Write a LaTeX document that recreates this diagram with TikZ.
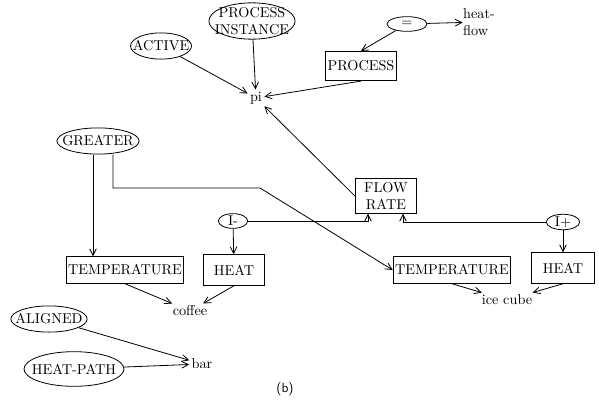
\documentclass[tikz,border=0pt]{standalone}
\usetikzlibrary{shapes.geometric,arrows.meta}

\begin{document}
\begin{tikzpicture}[x=0.75pt,y=-0.75pt,line width=0.6pt,
	font=\fontsize{10.7}{12.5}\selectfont,
	>={Straight Barb[length=5pt,width=5pt]},
	oval/.style={ellipse,draw,inner xsep=-5pt,inner ysep=3pt},
	small oval/.style={ellipse,draw,inner sep=0pt},
	box/.style={rectangle,draw,inner sep=1.5pt},
	word/.style={inner sep=1.5pt}]
	\useasboundingbox (0,0) rectangle (599,403);
	\node[oval] (active) at (161,46) {ACTIVE};
	\node[oval,inner ysep=-0.5pt,align=center] (procinst) at (252,21) {PROCESS\\INSTANCE};
	\node[small oval,minimum width=30pt,minimum height=11pt] (equal) at (407,24) {=};
	\node[align=left,inner sep=0pt] (heatflow) at (479,22) {heat-\\flow};
	\node[box,minimum width=53pt,minimum height=22pt] (process) at (361,66) {PROCESS};
	\node[word] (pi) at (256,98) {pi};
	\node[box,align=center,minimum width=46pt,minimum height=26pt] (flowrate) at (386,196) {FLOW\\RATE};
	\node[oval] (greater) at (98,141) {GREATER};
	\node[small oval,minimum width=22pt,minimum height=11pt] (iminus) at (233,221) {I-};
	\node[small oval,minimum width=25pt,minimum height=11pt] (iplus) at (563,222) {I+};
	\node[box,minimum width=87pt,minimum height=20pt] (temp1) at (125,270) {TEMPERATURE};
	\node[box,minimum width=46pt,minimum height=23pt] (heat1) at (234,270) {HEAT};
	\node[box,minimum width=87pt,minimum height=20pt] (temp2) at (452,270) {TEMPERATURE};
	\node[box,minimum width=47pt,minimum height=23pt] (heat2) at (563,268) {HEAT};
	\node[word] (coffee) at (190,311) {coffee};
	\node[word] (icecube) at (507,300) {ice cube};
	\node[oval] (aligned) at (49,319) {ALIGNED};
	\node[oval,minimum height=26pt] (heatpath) at (74,369) {HEAT-PATH};
	\node[word] (bar) at (202,364) {bar};
	\node[font=\sffamily] (caption) at (285,389) {(b)};
	\coordinate (bend) at (260,188);

	\draw[->] (equal) -- (heatflow);
	\draw[->] (equal) -- (process.north);
	\draw[->] (active) -- (pi);
	\draw[->] (procinst) -- (pi);
	\draw[->] (process.south) -- (pi);
	\draw[->] (flowrate.west) -- (pi);
	\draw[->] ([xshift=-3.75pt]greater.south) -- ([xshift=-3.75pt]greater.south |- temp1.north);
	\draw[->] ([xshift=11.25pt]greater.south) |- (bend) -- (temp2.west);
	\draw[->] (iminus) -| ([xshift=-13.5pt]flowrate.south);
	\draw[->] (iplus) -| ([xshift=12.75pt]flowrate.south);
	\draw[->] (iminus) -- (heat1);
	\draw[->] (iplus) -- (heat2);
	\draw[->] (temp1.south) -- (coffee);
	\draw[->] (heat1.south) -- (coffee);
	\draw[->] (temp2.south) -- (icecube);
	\draw[->] (heat2.south) -- (icecube);
	\draw[->] (aligned) -- (bar);
	\draw[->] (heatpath) -- (bar);
\end{tikzpicture}
\end{document}
